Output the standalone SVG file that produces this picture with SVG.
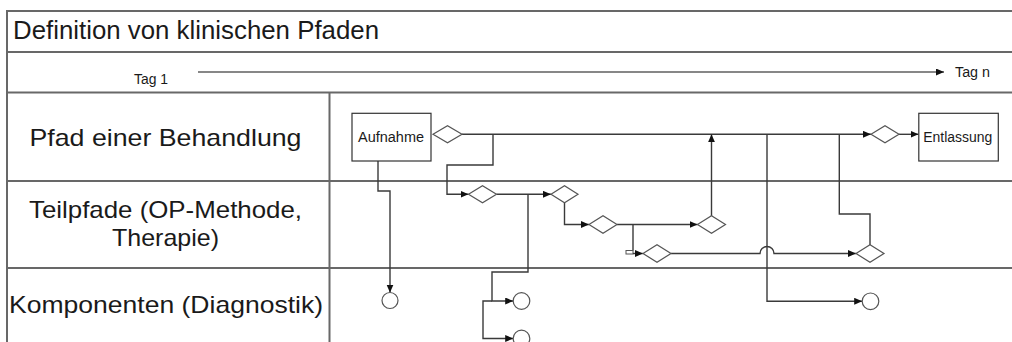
<svg xmlns="http://www.w3.org/2000/svg" width="1012" height="342" viewBox="0 0 1012 342">
<defs>
<style>
.frame{stroke:#686868;stroke-width:2;fill:none}
.conn{stroke:#3a3a3a;stroke-width:1.4;fill:none}
.dia{fill:#fff;stroke:#555;stroke-width:1.2}
.circ{fill:#fff;stroke:#555;stroke-width:1.2}
.box{fill:#fff;stroke:#333;stroke-width:1.2}
.t{font-family:"Liberation Sans",Arial,sans-serif;fill:#1a1a1a}
.lane{font-size:24px;text-anchor:middle}
.small{font-size:14px}
</style>
<marker id="ah" markerUnits="userSpaceOnUse" markerWidth="9" markerHeight="8" refX="8" refY="3.5" orient="auto">
<path d="M0,0 L8,3.5 L0,7 z" fill="#111"/>
</marker>
</defs>
<rect width="1012" height="342" fill="#fff"/>
<g id="frame">
<path class="frame" d="M7,342 V11 H1012 M7,52 H1012 M7,92.5 H1012 M7,181 H1012 M7,268 H1012 M329.5,92.5 V342"/>
</g>
<g id="title">
<text class="t" x="13" y="39" font-size="25.7" textLength="366" lengthAdjust="spacingAndGlyphs">Definition von klinischen Pfaden</text>
</g>
<g id="timeline">
<text class="t small" x="134" y="84" font-size="13.5" textLength="34" lengthAdjust="spacingAndGlyphs">Tag 1</text>
<text class="t small" x="955" y="77" font-size="13.5" textLength="35" lengthAdjust="spacingAndGlyphs">Tag n</text>
</g>
<g id="lanes">
<text class="t lane" x="165.5" y="145.5" textLength="272" lengthAdjust="spacingAndGlyphs">Pfad einer Behandlung</text>
<text class="t lane" x="165.5" y="217.5" textLength="273" lengthAdjust="spacingAndGlyphs">Teilpfade (OP-Methode,</text>
<text class="t lane" x="165.5" y="246" textLength="107" lengthAdjust="spacingAndGlyphs">Therapie)</text>
<text class="t lane" x="166" y="312.5" textLength="314" lengthAdjust="spacingAndGlyphs">Komponenten (Diagnostik)</text>
</g>
<g id="connectors">
<path d="M198,72 H944" stroke="#111" stroke-width="1.2" fill="none" marker-end="url(#ah)"/>
<path class="conn" d="M378,161 V191 H390 V292.5" marker-end="url(#ah)"/>
<path class="conn" d="M462,134.3 H871" marker-end="url(#ah)"/>
<path class="conn" d="M493,134.3 V165 H447 V194.3 H468.5" marker-end="url(#ah)"/>
<path class="conn" d="M496.5,194.3 H551" marker-end="url(#ah)"/>
<path class="conn" d="M528,194.3 V272 H492 V301 H513.2" marker-end="url(#ah)"/>
<path class="conn" d="M492,301 H483 V338.5 H513.2" marker-end="url(#ah)"/>
<path class="conn" d="M564.5,203 V224.5 H589" marker-end="url(#ah)"/>
<path class="conn" d="M617,224.5 H697.5" marker-end="url(#ah)"/>
<path class="conn" d="M711.5,216 V134.3" marker-end="url(#ah)"/>
<path class="conn" d="M633,224.5 V250.5"/>
<rect x="626" y="250.5" width="7" height="3.5" fill="#fff" stroke="#555" stroke-width="1"/>
<path class="conn" d="M633,253.5 H643" marker-end="url(#ah)"/>
<path class="conn" d="M671,253.5 H760 A7,7 0 0 1 774,253.5 H856" marker-end="url(#ah)"/>
<path class="conn" d="M767,134.3 V301.3 H862.2" marker-end="url(#ah)"/>
<path class="conn" d="M870,245 V214 H839.3 V134.3"/>
<path class="conn" d="M899,134.3 H918.5" marker-end="url(#ah)"/>
</g>
<g id="aufnahme">
<rect class="box" x="352" y="113.3" width="79" height="47.7"/>
<text class="t" x="358" y="141.7" font-size="14" textLength="66" lengthAdjust="spacingAndGlyphs">Aufnahme</text>
</g>
<g id="entlassung">
<rect class="box" x="918.8" y="113.3" width="79.5" height="47.7"/>
<text class="t" x="923.3" y="141.7" font-size="14" textLength="69" lengthAdjust="spacingAndGlyphs">Entlassung</text>
</g>
<g id="d1"><path class="dia" d="M433,134.3 L447.5,125.8 L462,134.3 L447.5,142.8 Z"/></g>
<g id="d2"><path class="dia" d="M468.5,194.3 L482.5,185.8 L496.5,194.3 L482.5,202.8 Z"/></g>
<g id="d3"><path class="dia" d="M551,194.3 L564.5,185.8 L578,194.3 L564.5,202.8 Z"/></g>
<g id="d4"><path class="dia" d="M589,224.5 L603,215.8 L617,224.5 L603,233.2 Z"/></g>
<g id="d5"><path class="dia" d="M697.5,224.5 L711.5,215.8 L725.5,224.5 L711.5,233.2 Z"/></g>
<g id="d6"><path class="dia" d="M643,253.5 L657,244.8 L671,253.5 L657,262.2 Z"/></g>
<g id="d7"><path class="dia" d="M856,253.5 L870,244.8 L884,253.5 L870,262.2 Z"/></g>
<g id="d8"><path class="dia" d="M871,134.3 L885,125.8 L899,134.3 L885,142.8 Z"/></g>
<g id="c1"><circle class="circ" cx="390" cy="300.5" r="8"/></g>
<g id="c2"><circle class="circ" cx="521.5" cy="301" r="8.3"/></g>
<g id="c3"><circle class="circ" cx="521.5" cy="338.5" r="8.3"/></g>
<g id="c4"><circle class="circ" cx="870.5" cy="301.3" r="8.3"/></g>
</svg>
